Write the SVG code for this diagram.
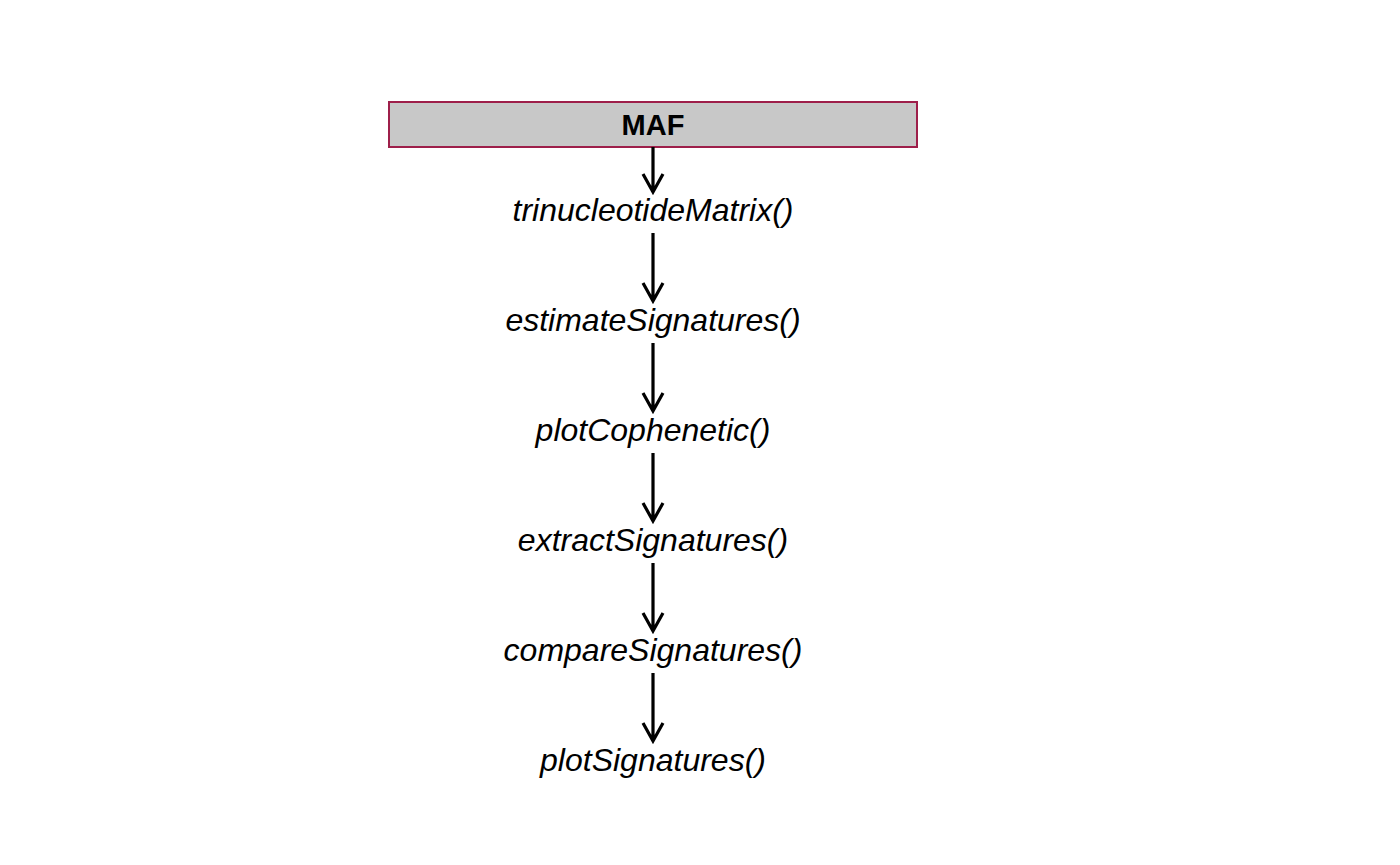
<svg xmlns="http://www.w3.org/2000/svg" width="1400" height="865" viewBox="0 0 1400 865">
<style>
.fn{font-family:"Liberation Sans",Arial,sans-serif;font-style:italic;font-size:32px;fill:#000;text-anchor:middle}
.hd{font-family:"Liberation Sans",Arial,sans-serif;font-weight:bold;font-size:29px;fill:#000;text-anchor:middle}
.c{stroke:#000;stroke-width:3.2;fill:none}
</style>
<rect width="1400" height="865" fill="#fff"/>
<g id="maf">
<rect x="389" y="102" width="528" height="45" fill="#c8c8c8" stroke="#9e1f4a" stroke-width="2"/>
<text class="hd" x="653" y="135">MAF</text>
</g>
<g id="connectors">
<path class="c" d="M653 147V192M643 174L653 192L663 174"/>
<path class="c" d="M653 233V301M643 283L653 301L663 283"/>
<path class="c" d="M653 343V411M643 393L653 411L663 393"/>
<path class="c" d="M653 453V521M643 503L653 521L663 503"/>
<path class="c" d="M653 563V631M643 613L653 631L663 613"/>
<path class="c" d="M653 673V741M643 723L653 741L663 723"/>
</g>
<g id="n1"><text class="fn" x="653" y="221">trinucleotideMatrix()</text></g>
<g id="n2"><text class="fn" x="653" y="331">estimateSignatures()</text></g>
<g id="n3"><text class="fn" x="653" y="441">plotCophenetic()</text></g>
<g id="n4"><text class="fn" x="653" y="551">extractSignatures()</text></g>
<g id="n5"><text class="fn" x="653" y="661">compareSignatures()</text></g>
<g id="n6"><text class="fn" x="653" y="771">plotSignatures()</text></g>
</svg>
